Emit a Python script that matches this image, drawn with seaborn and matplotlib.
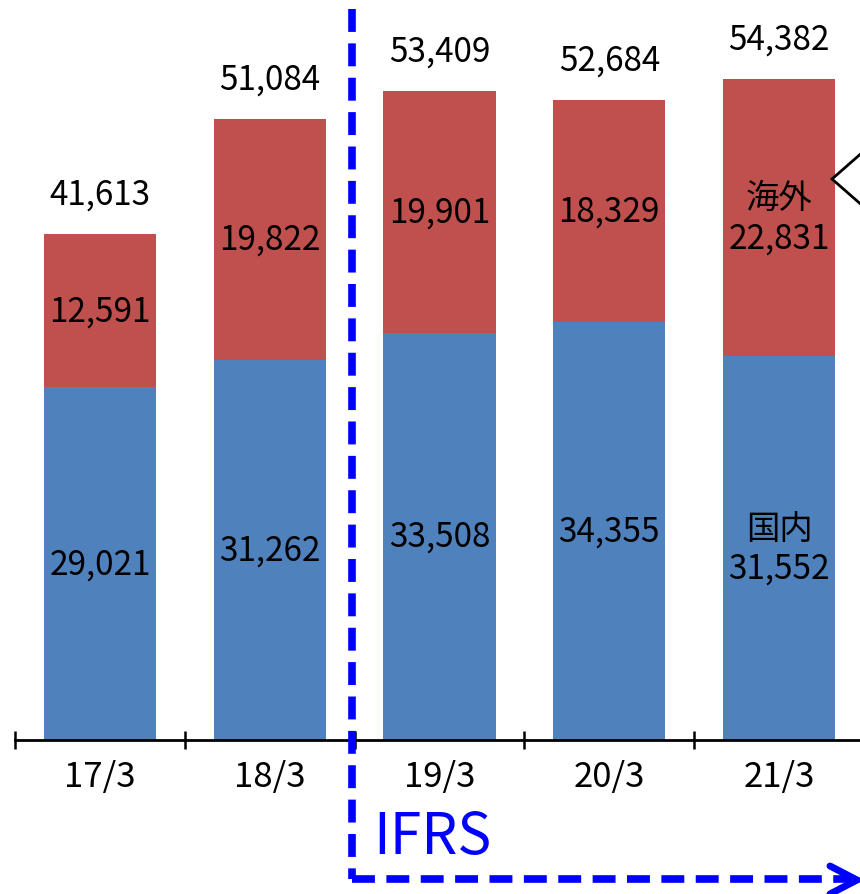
import matplotlib
matplotlib.use("Agg")
import matplotlib.pyplot as plt
import seaborn as sns
import pandas as pd
from matplotlib.lines import Line2D
from matplotlib.patches import Polygon

# -----------------------------
# data
# -----------------------------
years = ["17/3", "18/3", "19/3", "20/3", "21/3"]
domestic = [29021, 31262, 33508, 34355, 31552]
overseas = [12591, 19822, 19901, 18329, 22831]
totals = [41613, 51084, 53409, 52684, 54382]

BLUE = "#4F81BD"
RED = "#C0504D"

sns.set_theme(style="white")
plt.rcParams["font.family"] = ["Noto Sans CJK JP", "DejaVu Sans"]

df = pd.DataFrame({"year": years, "domestic": domestic,
                   "overseas": overseas, "total": totals})

W, H = 860, 895
fig = plt.figure(figsize=(W / 100, H / 100), dpi=100)
ax = fig.add_axes([15 / W, (H - 741) / H, 849 / W, 741 / H])

# stacked bars: total (red) with domestic (blue) drawn over it
sns.barplot(data=df, x="year", y="total", color=RED, width=0.66,
            saturation=1, linewidth=0, ax=ax)
sns.barplot(data=df, x="year", y="domestic", color=BLUE, width=0.66,
            saturation=1, linewidth=0, ax=ax)

ax.set_xlim(-0.5, 4.5)
ax.set_ylim(0, 741 / (661 / 54382))
ax.set_xlabel("")
ax.set_ylabel("")
ax.set_yticks([])
for s in ["top", "right", "left"]:
    ax.spines[s].set_visible(False)
ax.spines["bottom"].set_color("black")
ax.spines["bottom"].set_linewidth(2)

ax.set_xticks(range(len(years)))
ax.set_xticklabels(years, fontsize=25)
ax.set_xticks([i - 0.5 for i in range(len(years) + 1)], minor=True)
ax.tick_params(axis="x", which="major", length=0, pad=14, colors="black")
ax.tick_params(axis="x", which="minor", length=13, width=1.8,
               direction="inout", color="black", bottom=True)

fs = 24
for i in range(len(years)):
    d, o, t = domestic[i], overseas[i], totals[i]
    ax.annotate(f"{t:,}", (i, t), xytext=(0, 40), textcoords="offset pixels",
                ha="center", va="center", fontsize=fs, color="black")
    dlab = f"{d:,}"
    olab = f"{o:,}"
    if i == len(years) - 1:
        dlab = "国内\n" + dlab
        olab = "海外\n" + olab
    ax.text(i, d / 2, dlab, ha="center", va="center", fontsize=fs,
            color="black", linespacing=1.2)
    ax.text(i, d + o / 2, olab, ha="center", va="center", fontsize=fs,
            color="black", linespacing=1.2)

# IFRS boundary (dashed bracket with arrow)
def fx(px):
    return px / W

def fy(py):
    return 1 - py / H

dash = (0, (3.0, 1.5))
fig.add_artist(Line2D([fx(352), fx(352)], [fy(10), fy(880)], color="#0000FF",
                      lw=5.5, linestyle=dash, transform=fig.transFigure))
fig.add_artist(Line2D([fx(352), fx(850)], [fy(880), fy(880)], color="#0000FF",
                      lw=5.5, linestyle=dash, transform=fig.transFigure))
fig.add_artist(Line2D([fx(830), fx(857), fx(830)], [fy(867), fy(881), fy(895)],
                      color="#0000FF", lw=5, solid_joinstyle="miter",
                      transform=fig.transFigure))
fig.text(fx(432), fy(838), "IFRS", color="#0000FF", fontsize=41,
         ha="center", va="center")

# callout pointer at right edge
fig.add_artist(Polygon([(fx(864), fy(152)), (fx(832), fy(180)), (fx(864), fy(208))],
                       closed=False, facecolor="white", edgecolor="black", lw=2,
                       transform=fig.transFigure))

fig.savefig("out.png", dpi=100)
